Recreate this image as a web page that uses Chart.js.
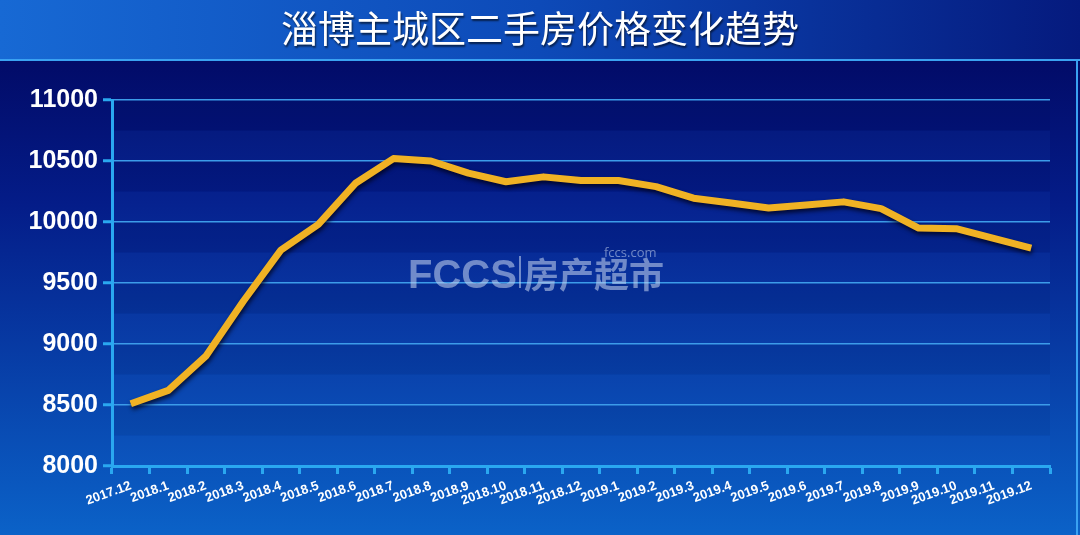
<!DOCTYPE html>
<html>
<head>
<meta charset="utf-8">
<script src="https://cdn.jsdelivr.net/npm/chart.js@4/dist/chart.umd.min.js"></script>
<style>
    body { margin: 0; background: #020b66; }
    canvas { display: block; }
</style>
</head>
<body>
<canvas id="chartCanvas" width="1080" height="535"></canvas>
<script>
const title = '淄博主城区二手房价格变化趋势';
const months = ['2017.12', '2018.1', '2018.2', '2018.3', '2018.4', '2018.5', '2018.6', '2018.7',
    '2018.8', '2018.9', '2018.10', '2018.11', '2018.12', '2019.1', '2019.2', '2019.3', '2019.4',
    '2019.5', '2019.6', '2019.7', '2019.8', '2019.9', '2019.10', '2019.11', '2019.12'];
const prices = [8510, 8620, 8900, 9350, 9770, 9980, 10320, 10520, 10500, 10400, 10330, 10370,
    10340, 10340, 10290, 10195, 10155, 10115, 10140, 10165, 10110, 9950, 9945, 9865, 9785];
const yMin = 8000;
const yMax = 11000;
const yStep = 250;

// background: title bar, panel, stripes, watermark
const backdrop = {
    id: 'backdrop',
    beforeDraw(chart) {
        const { ctx, width, height, chartArea: area } = chart;
        const y = chart.scales.y;
        ctx.save();

        let g = ctx.createLinearGradient(0, 0, width, 0);
        g.addColorStop(0, '#1769d4');
        g.addColorStop(0.5, '#0d4ab8');
        g.addColorStop(1, '#051a7e');
        ctx.fillStyle = g;
        ctx.fillRect(0, 0, width, 60);

        g = ctx.createLinearGradient(0, 61, 0, height);
        g.addColorStop(0, '#020b68');
        g.addColorStop(0.3, '#041c88');
        g.addColorStop(1, '#0b62c8');
        ctx.fillStyle = g;
        ctx.fillRect(0, 61, width, height - 61);

        ctx.fillStyle = '#3aa2f2';
        ctx.fillRect(0, 59, width, 2);
        ctx.fillRect(width - 4, 59, 2, height - 59);

        // alternating bands between grid lines
        for (let v = yMin; v < yMax; v += yStep) {
            const top = y.getPixelForValue(v + yStep);
            const bot = y.getPixelForValue(v);
            const light = ((v - yMin) / yStep) % 2 === 0;
            ctx.fillStyle = light ? 'rgba(40,120,230,0.08)' : 'rgba(0,0,40,0.06)';
            ctx.fillRect(area.left, top, area.right - area.left, bot - top);
        }

        // title
        ctx.fillStyle = '#ffffff';
        ctx.shadowColor = 'rgba(0,0,0,0.6)';
        ctx.shadowOffsetX = 1;
        ctx.shadowOffsetY = 2;
        ctx.shadowBlur = 2;
        ctx.font = '37px "Noto Sans CJK SC"';
        ctx.textAlign = 'center';
        ctx.textBaseline = 'middle';
        ctx.fillText(title, width / 2, 29);
        ctx.restore();
    },
    afterDraw(chart) {
        const { ctx } = chart;
        ctx.save();
        ctx.fillStyle = 'rgba(200,215,240,0.55)';
        ctx.textBaseline = 'alphabetic';
        ctx.textAlign = 'left';
        ctx.font = 'bold 40px "Liberation Sans", Arial';
        ctx.fillText('FCCS', 408, 288);
        ctx.fillRect(519, 256, 2, 32);
        ctx.font = 'bold 35px "Noto Sans CJK SC"';
        ctx.fillText('房产超市', 524, 288);
        ctx.font = '13px "Open Sans", sans-serif';
        ctx.fillText('fccs.com', 604, 257);
        ctx.restore();
    }
};

const lineShadow = {
    id: 'lineShadow',
    beforeDatasetDraw(chart) {
        const ctx = chart.ctx;
        ctx.save();
        ctx.shadowColor = 'rgba(0,0,20,0.75)';
        ctx.shadowOffsetX = 1;
        ctx.shadowOffsetY = 3;
        ctx.shadowBlur = 4;
    },
    afterDatasetDraw(chart) {
        chart.ctx.restore();
    }
};

const ctx = document.getElementById('chartCanvas').getContext('2d');
new Chart(ctx, {
    type: 'line',
    data: {
        labels: months,
        datasets: [{
            label: '价格',
            data: prices,
            borderColor: '#f0b224',
            borderWidth: 7,
            borderJoinStyle: 'round',
            pointRadius: 0,
            tension: 0,
            fill: false
        }]
    },
    options: {
        responsive: false,
        animation: false,
        layout: { padding: { top: 100, right: 30, left: 0, bottom: 0 } },
        plugins: {
            legend: { display: false },
            tooltip: { enabled: false }
        },
        scales: {
            x: {
                offset: true,
                afterFit(scale) { scale.height = 69; },
                border: { color: '#2aa8f0', width: 3 },
                grid: {
                    offset: true,
                    drawOnChartArea: false,
                    tickLength: 8,
                    tickColor: '#2aa8f0',
                    tickWidth: 3
                },
                ticks: {
                    color: '#ffffff',
                    font: { family: '"Liberation Sans", Arial', size: 13, weight: 'bold' },
                    autoSkip: false,
                    minRotation: 20,
                    maxRotation: 20,
                    padding: 4
                }
            },
            y: {
                min: yMin,
                max: yMax,
                afterFit(scale) { scale.width = 112; },
                border: { color: '#2aa8f0', width: 3 },
                grid: {
                    color: '#3c9ce9',
                    lineWidth: 1.5,
                    tickLength: 9,
                    tickWidth: 3,
                    tickColor: (c) => (c.tick && c.tick.value % 500 === 0) ? '#2aa8f0' : 'rgba(0,0,0,0)'
                },
                ticks: {
                    stepSize: yStep,
                    color: '#ffffff',
                    padding: 5,
                    font: { family: '"Liberation Sans", Arial', size: 25, weight: 'bold' },
                    callback: (v) => v % 500 === 0 ? v : ''
                }
            }
        }
    },
    plugins: [backdrop, lineShadow]
});
</script>
</body>
</html>
